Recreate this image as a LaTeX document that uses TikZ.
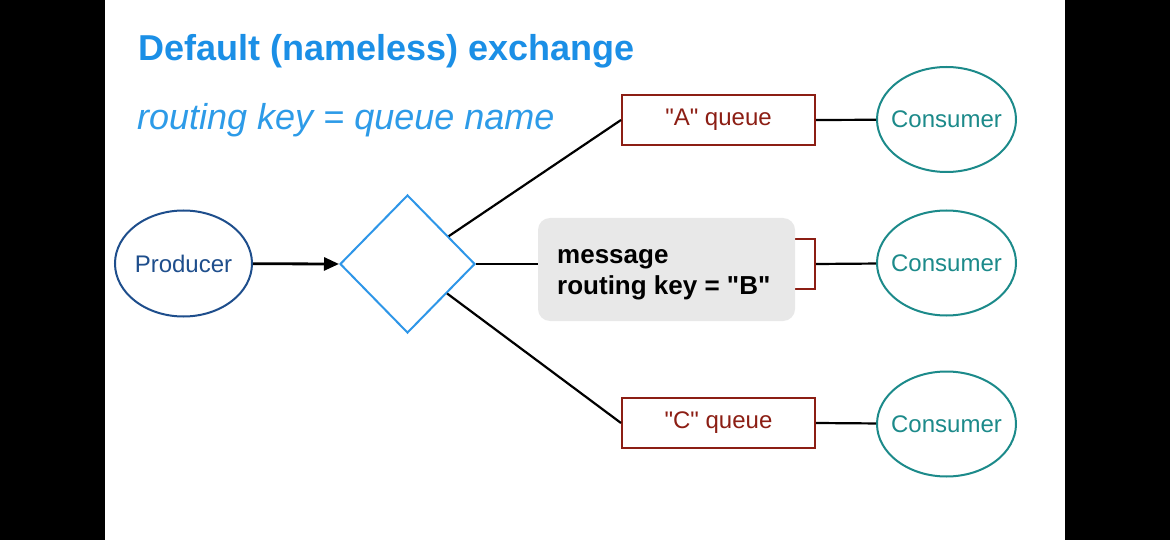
\documentclass[tikz,border=0pt]{standalone}
\usepackage{fontspec}
\setmainfont{Liberation Sans}
\usetikzlibrary{shapes.geometric,arrows.meta}
\definecolor{titleblue}{RGB}{27,143,230}
\definecolor{subblue}{RGB}{45,155,232}
\definecolor{diablue}{RGB}{46,150,232}
\definecolor{prodblue}{RGB}{30,78,140}
\definecolor{qred}{RGB}{140,30,20}
\definecolor{cteal}{RGB}{28,138,138}
\definecolor{msggray}{RGB}{232,232,232}
\newcommand{\zbox}[1]{\makebox[0pt]{#1}}
\newcommand{\dq}{\textquotedbl}
\tikzset{
  qbox/.style={draw=qred,line width=2pt,minimum width=193pt,minimum height=50pt,inner sep=0pt,text=qred,font=\fontsize{24}{28}\selectfont},
  cons/.style={ellipse,draw=cteal,line width=2pt,minimum width=139pt,minimum height=105pt,inner sep=0pt,text=cteal,font=\fontsize{24}{28}\selectfont},
  conn/.style={line width=2.2pt,black},
  msgline/.style={anchor=base west,inner sep=0pt,font=\fontsize{26}{31}\selectfont\bfseries},
}
\begin{document}
\begin{tikzpicture}[x=1pt,y=-1pt]
\useasboundingbox (0,0) rectangle (1170,540);
\fill[black] (0,0) rectangle (1170,540);
\fill[white] (105,0) rectangle (1065,540);
% titles
\node[anchor=base west,inner sep=0pt,text=titleblue,font=\fontsize{36}{40}\selectfont\bfseries] (title) at (138,61) {Default (nameless) exchange};
\node[anchor=base west,inner sep=0pt,text=subblue,font=\fontsize{36}{40}\selectfont\itshape] (sub) at (137,130) {routing key = queue name};
% producer and exchange
\node[ellipse,draw=prodblue,line width=2pt,minimum width=137pt,minimum height=106pt,inner sep=0pt,text=prodblue,font=\fontsize{24}{28}\selectfont] (prod) at (183.5,263.5) {\zbox{Producer}};
\node[diamond,draw=diablue,line width=2pt,minimum width=135pt,minimum height=138pt,inner sep=0pt] (dia) at (407.5,264) {};
% queues
\node[qbox] (qa) at (718.5,120) {\dq A\dq{} queue};
\node[qbox] (qb) at (718.5,264) {};
\node[qbox] (qc) at (718.5,423) {\dq C\dq{} queue};
% consumers
\node[cons] (ca) at (946.5,119.5) {\zbox{Consumer}};
\node[cons] (cb) at (946.5,263) {\zbox{Consumer}};
\node[cons] (cc) at (946.5,424) {\zbox{Consumer}};
% message
\node[fill=msggray,rounded corners=12pt,minimum width=257pt,minimum height=103pt,inner sep=0pt] (msg) at (666.5,269.5) {};
\node[msgline] (msg1) at (557,263) {message};
\node[msgline] (msg2) at (557,294) {routing key = \dq B\dq};
% connectors
\draw[line width=2.8pt,-{Triangle[length=15pt,width=13pt]}] (prod) -- (dia.west);
\draw[conn] (dia) -- (qa.west);
\draw[conn] (dia) -- (qc.west);
\draw[conn] (dia.east) -- (dia.east -| msg.west);
\draw[conn] (qa.east) -- (ca);
\draw[conn] (qb.east) -- (cb);
\draw[conn] (qc.east) -- (cc);
\end{tikzpicture}
\end{document}
